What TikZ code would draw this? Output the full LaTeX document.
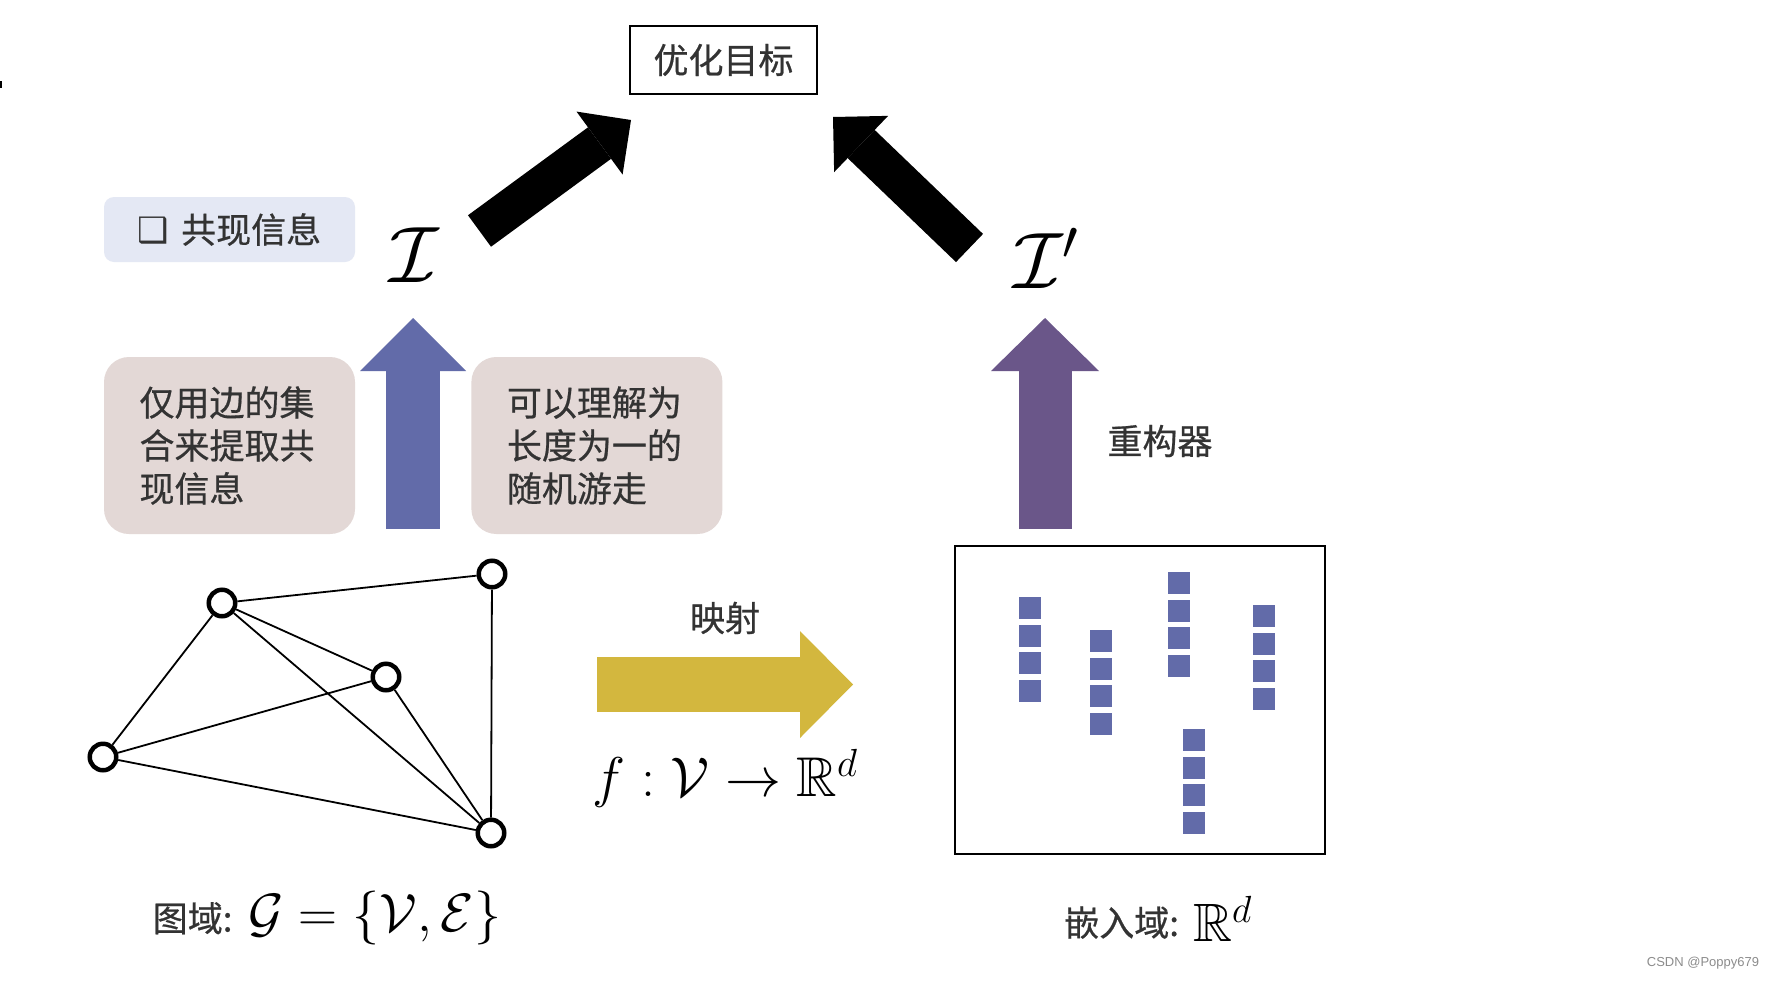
\RequirePackage{fix-cm}
\documentclass[tikz,border=0pt]{standalone}
\usepackage{amsmath}
\usepackage{amssymb}
\usepackage{fontspec}
\newfontfamily\cjk{Noto Sans CJK SC}[FakeBold=0.6]
\newfontfamily\dejavu{DejaVu Sans Bold}
\newfontfamily\arial{Liberation Sans}
\usetikzlibrary{positioning, arrows.meta}
\definecolor{txtgray}{HTML}{333333}
\definecolor{wmgray}{HTML}{8C8C8C}
\definecolor{lavender}{HTML}{E4E8F4}
\definecolor{rosebox}{HTML}{E3D8D6}
\definecolor{embblue}{HTML}{626BA9}
\definecolor{recpurple}{HTML}{6A5689}
\definecolor{mapyellow}{HTML}{D3B73E}
\tikzset{
	cjktext/.style={font=\cjk\fontsize{35}{43}\selectfont, text=txtgray},
	mathbig/.style={font=\fontsize{56}{62}\selectfont},
	infobox/.style={cjktext, fill=rosebox, rounded corners=25pt, minimum width=251pt, minimum height=177pt, text width=180pt, inner xsep=35.5pt, align=left},
	vertex/.style={circle, draw, line width=4.5pt, minimum size=26.5pt, inner sep=0pt},
	link/.style={line width=1.8pt},
	fatarrow/.style n args={4}{#4, line width=#1, -{Triangle[length=#3, width=#2, line width=0pt]}},
}

\begin{document}
\begin{tikzpicture}[x=1pt, y=-1pt, node distance=116pt]

		\fill[white] (0,0) rectangle (1774,980);
		\useasboundingbox (0,0) rectangle (1774,980);
		\fill (0,81) rectangle (1.5,88);

		% nodes - top and information %
		\node[draw, line width=2pt, cjktext, minimum width=187pt, minimum height=68pt] (goal) at (723.5,60) {优化目标};
		\node[cjktext, fill=lavender, rounded corners=10pt, minimum width=251pt, minimum height=65pt] (cooc) at (229.5,229.5) {{\dejavu ❑}\hspace{12pt}共现信息};
		\node[font=\fontsize{80}{90}\selectfont] (info) at (414,255) {$\mathcal{I}$};
		\node[font=\fontsize{80}{90}\selectfont] (infor) at (1046,258) {$\mathcal{I}'$};
		\node[infobox] (edgeset) at (229.5,445.5) {仅用边的集\\合来提取共\\现信息};
		\node[infobox, right=of edgeset] (walk) {可以理解为\\长度为一的\\随机游走};
		\node[cjktext] (recon) at (1160,441) {重构器};

		% nodes - graph %
		\node[vertex] (a) at (222,603) {};
		\node[vertex] (b) at (492,574) {};
		\node[vertex] (c) at (386,677) {};
		\node[vertex] (d) at (103,757) {};
		\node[vertex] (e) at (491,833) {};
		\node (glabel) at (327,918) {{\cjk\fontsize{35}{43}\selectfont\color{txtgray}图域:}\hspace{16pt}{\fontsize{54}{60}\selectfont$\mathcal{G}=\{\mathcal{V},\mathcal{E}\}$}};

		% nodes - mapping and embedding %
		\node[cjktext] (maplabel) at (725,618) {映射};
		\node[mathbig, below=160pt of maplabel.center, anchor=center] (fmap) {$f:\mathcal{V}\to\mathbb{R}^d$};
		\node[draw, line width=2.5pt, minimum width=370pt, minimum height=308pt] (embbox) at (1140,700) {};
		\node (elabel) at (1158,919) {\raisebox{6pt}{\cjk\fontsize{35}{43}\selectfont\color{txtgray}嵌入域:}\hspace{14pt}{\fontsize{54}{60}\selectfont$\mathbb{R}^d$}};
		\node[font=\arial\fontsize{13}{15}\selectfont, text=wmgray] (wm) at (1703,963) {CSDN @Poppy679};

		\foreach \x/\y in {1019/597, 1090/630, 1168/572, 1253/605, 1183/729}
			\foreach \k in {0,...,3}
				\fill[embblue] ({\x},{\y+27.5*\k}) rectangle ++(22,22);

		% ends of the big arrows %
		\coordinate (ltail) at (479.5,231);
		\coordinate (ltip) at (631,120);
		\coordinate (rtail) at (969.5,248);
		\coordinate (rtip) at (833,117);
		\coordinate (btail) at (413,529);
		\coordinate (btip) at (413,318);
		\coordinate (ptail) at (1045,529);
		\coordinate (ptip) at (1045,318);
		\coordinate (ytail) at (597,684.5);
		\coordinate (ytip) at (853,684.5);

		% edges %
		\foreach \s/\t in {a/b, a/c, a/d, a/e, b/e, c/d, c/e, d/e}
			\draw[link] (\s) -- (\t);
		\draw[fatarrow={39pt}{78pt}{39pt}{black}] (ltail) -- (ltip);
		\draw[fatarrow={39pt}{78pt}{39pt}{black}] (rtail) -- (rtip);
		\draw[fatarrow={54pt}{106pt}{53pt}{embblue}] (btail) -- (btip);
		\draw[fatarrow={53pt}{108pt}{53pt}{recpurple}] (ptail) -- (ptip);
		\draw[fatarrow={55pt}{107pt}{53pt}{mapyellow}] (ytail) -- (ytip);

\end{tikzpicture}
\end{document}
